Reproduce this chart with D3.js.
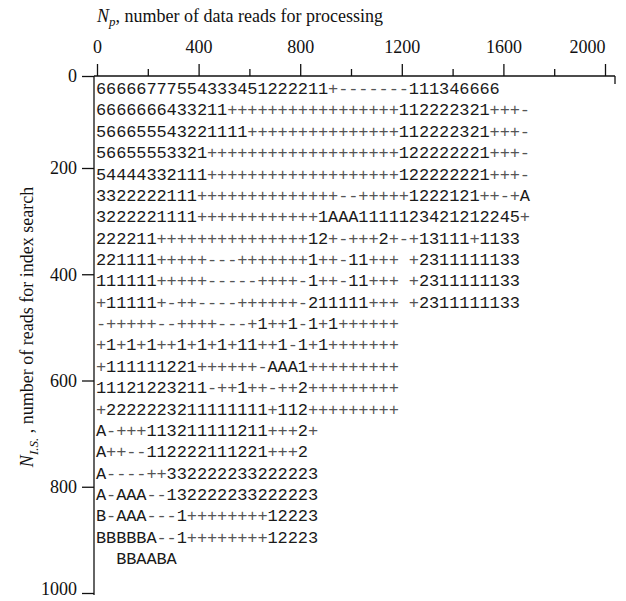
<!DOCTYPE html>
<html>
<head>
<meta charset="utf-8">
<script src="https://cdn.jsdelivr.net/npm/d3@7"></script>
<style>
  body { margin: 0; background: #fff; }
  svg { display: block; }
  .axis path, .axis line { stroke: #111; stroke-width: 1.3; }
  .axis text { font-family: "Liberation Serif", "DejaVu Serif", serif; font-size: 18px; fill: #111; }
  .title { font-family: "Liberation Serif", "DejaVu Serif", serif; font-size: 18px; fill: #111; }
  .cell { font-family: "Liberation Mono", "DejaVu Sans Mono", monospace; font-size: 17px; fill: #1a1a1a; }
  .cell.soft { fill: #555; }
</style>
</head>
<body>
<svg width="626" height="601"></svg>
<script>
// line-printer map: one character = 40 reads x 40 reads
const printRows = [
  "66666777554333451222211+-------111346666",
  "6666666433211" + "+++++++++++++++++" + "112222321+++-",
  "566655543221111" + "+++++++++++++++" + "112222321+++-",
  "56655553321" + "+++++++++++++++++++" + "122222221+++-",
  "54444332111" + "+++++++++++++++++++" + "122222221+++-",
  "3322222111" + "++++++++++++++" + "--+++++1222121++-+A",
  "3222221111" + "++++++++++++" + "1AAA1111123421212245+",
  "222211" + "+++++++++++++++" + "12+-+++2+-+13111+1133",
  "221111" + "+++++---+++++++" + "1++-11+++ +2311111133",
  "111111" + "+++++-----++++" + "-1++-11+++ +2311111133",
  "+11111" + "+-++----++++++" + "-211111+++ +2311111133",
  "-+++++--++++---+1++1-1+1++++++",
  "+1+1+1++1+1+1+11++1-1+1" + "+++++++",
  "+111111221" + "++++++" + "-AAA1" + "+++++++++",
  "11121223211-++1++-++2" + "+++++++++",
  "+2222223211111111+112" + "+++++++++",
  "A-+++113211111211+++2+",
  "A++--112222111221+++2",
  "A----++332222233222223",
  "A-AAA--132222233222223",
  "B-AAA---1++++++++12223",
  "BBBBBA--1++++++++12223",
  "  BBAABA"
];

const xTicks = [0, 200, 400, 600, 800, 1000, 1200, 1400, 1600, 1800, 2000];
const xLabelTicks = [0, 400, 800, 1200, 1600, 2000];
const yTicks = [0, 200, 400, 600, 800, 1000];

const svg = d3.select("svg");

const x = d3.scaleLinear().domain([0, 2000]).range([97, 605]);
const y = d3.scaleLinear().domain([0, 200, 1000]).range([76, 168, 593]);

// printer grid (columns / rows of characters)
const col = d3.scaleLinear().domain([0, 43]).range([96, 530]);
const row = d3.scaleLinear().domain([0, 22]).range([88, 558]);

// top axis
const gx = svg.append("g")
  .attr("class", "axis")
  .attr("transform", "translate(0,76)")
  .call(d3.axisTop(x)
    .tickValues(xTicks)
    .tickSizeOuter(0)
    .tickFormat(d => xLabelTicks.includes(d) ? String(d) : ""));

gx.select(".domain").attr("d", "M94,0H615");
gx.selectAll(".tick line").attr("y2", d => xLabelTicks.includes(d) ? -12 : -7);
gx.selectAll(".tick text")
  .attr("y", -23)
  .attr("dx", d => d === 2000 ? -18 : 0);

svg.append("line")
  .attr("x1", 615).attr("x2", 615)
  .attr("y1", 76).attr("y2", 84)
  .attr("stroke", "#111").attr("stroke-width", 1.3);

// left axis
const gy = svg.append("g")
  .attr("class", "axis")
  .attr("transform", "translate(94,0)")
  .call(d3.axisLeft(y)
    .tickValues(yTicks)
    .tickSize(12)
    .tickPadding(5)
    .tickSizeOuter(0)
    .tickFormat(d => String(d)));

gy.select(".domain").attr("d", "M0,76V595");
gy.selectAll(".tick text").filter(d => d === 1000).attr("dy", "0.1em");

// characters
const cells = printRows
  .flatMap((s, r) => Array.from(s).map((ch, c) => ({ ch: ch, r: r, c: c })))
  .filter(d => d.ch !== " ");

svg.append("g")
  .selectAll("text")
  .data(cells)
  .join("text")
    .attr("class", d => "+-".includes(d.ch) ? "cell soft" : "cell")
    .attr("x", d => col(d.c + 0.5))
    .attr("y", d => row(d.r))
    .attr("dy", "0.36em")
    .attr("text-anchor", "middle")
    .text(d => d.ch);

// axis titles
const tx = svg.append("text")
  .attr("class", "title")
  .attr("x", 97)
  .attr("y", 22);
tx.append("tspan").attr("font-style", "italic").text("N");
tx.append("tspan").attr("font-style", "italic").attr("font-size", "13px").attr("dy", 4).text("p");
tx.append("tspan").attr("dy", -4).text(", number of data reads for processing");

const ty = svg.append("text")
  .attr("class", "title")
  .attr("text-anchor", "middle")
  .attr("transform", "translate(33,327) rotate(-90)");
ty.append("tspan").attr("font-style", "italic").text("N");
ty.append("tspan").attr("font-style", "italic").attr("font-size", "13px").attr("dy", 5).text("I.S.");
ty.append("tspan").attr("dy", -5).text(" , number of reads for index search");
</script>
</body>
</html>
